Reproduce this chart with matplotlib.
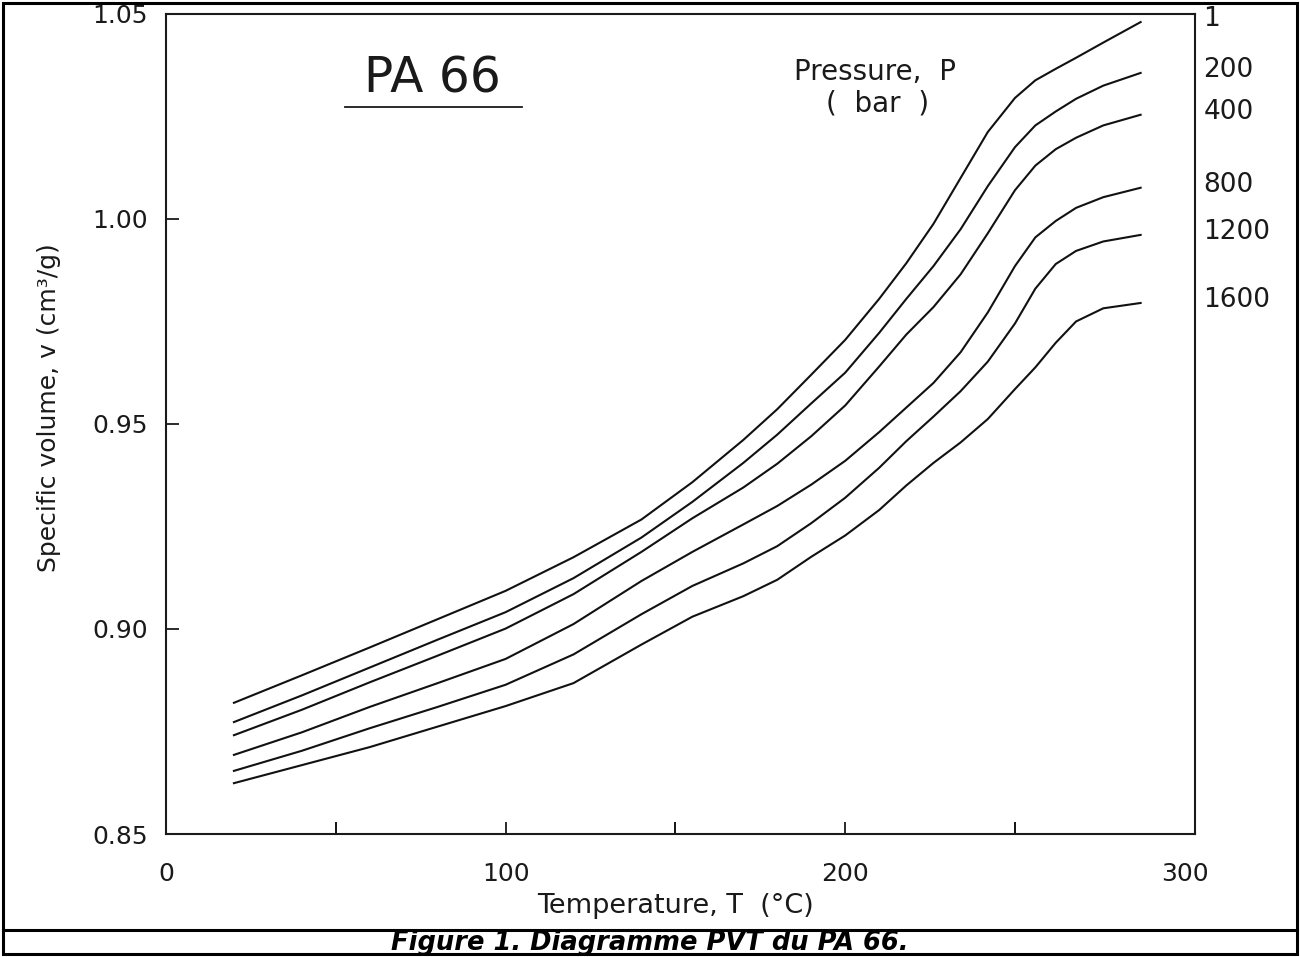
"""
Diagramme PVT du PA 66 - volume spécifique en fonction de la température
pour plusieurs pressions (valeurs relevées sur la figure d'origine)
"""

import matplotlib
matplotlib.use('Agg')
import matplotlib.pyplot as plt
import matplotlib.transforms as mtransforms
from matplotlib.lines import Line2D
from matplotlib.patches import Rectangle

plt.rcParams['font.family'] = ['DejaVu Sans']

# ============================================================
# Données
# ============================================================
temperature = [20, 40, 60, 80, 100, 120, 140, 155, 170, 180, 190, 200,
               210, 218, 226, 234, 242, 250, 256, 262, 268, 276, 287]

pressures = ["1", "200", "400", "800", "1200", "1600"]

v_1 = [0.8820, 0.8887, 0.8955, 0.9024, 0.9093, 0.9175, 0.9267, 0.9358,
       0.9461, 0.9536, 0.9620, 0.9705, 0.9805, 0.9892, 0.9988, 1.0100,
       1.0212, 1.0295, 1.0338, 1.0366, 1.0393, 1.0430, 1.0480]
v_200 = [0.8773, 0.8838, 0.8906, 0.8974, 0.9041, 0.9124, 0.9223, 0.9310,
         0.9405, 0.9474, 0.9550, 0.9625, 0.9722, 0.9805, 0.9885, 0.9975,
         1.0080, 1.0175, 1.0228, 1.0262, 1.0293, 1.0325, 1.0356]
v_400 = [0.8741, 0.8803, 0.8870, 0.8935, 0.9001, 0.9085, 0.9188, 0.9270,
         0.9345, 0.9403, 0.9470, 0.9545, 0.9640, 0.9718, 0.9785, 0.9865,
         0.9965, 1.0070, 1.0130, 1.0170, 1.0198, 1.0228, 1.0254]
v_800 = [0.8693, 0.8748, 0.8810, 0.8868, 0.8927, 0.9012, 0.9117, 0.9188,
         0.9255, 0.9300, 0.9352, 0.9410, 0.9480, 0.9540, 0.9600, 0.9675,
         0.9772, 0.9885, 0.9955, 0.9995, 1.0027, 1.0053, 1.0076]
v_1200 = [0.8654, 0.8703, 0.8758, 0.8810, 0.8864, 0.8938, 0.9036, 0.9105,
          0.9160, 0.9202, 0.9258, 0.9320, 0.9393, 0.9458, 0.9518, 0.9580,
          0.9652, 0.9745, 0.9830, 0.9890, 0.9922, 0.9945, 0.9961]
v_1600 = [0.8624, 0.8668, 0.8712, 0.8762, 0.8812, 0.8868, 0.8962, 0.9030,
          0.9080, 0.9120, 0.9176, 0.9228, 0.9290, 0.9350, 0.9405, 0.9455,
          0.9512, 0.9585, 0.9638, 0.9698, 0.9750, 0.9782, 0.9795]

volumes = [v_1, v_200, v_400, v_800, v_1200, v_1600]

x_labels = [0, 100, 200, 300]
x_half = [50, 150, 250]
y_ticks = [0.85, 0.90, 0.95, 1.00, 1.05]

# ============================================================
# Figure
# ============================================================
fig = plt.figure(figsize=(13, 9.57), dpi=100)
ax = fig.add_axes([0.1277, 0.1285, 0.7915, 0.857])

for v in volumes:
    ax.plot(temperature, v, color='#111111', linewidth=1.5,
            solid_joinstyle='round')

ax.set_xlim(0, 303)
ax.set_ylim(0.85, 1.05)

ax.set_xticks(x_labels)
ax.set_xticks(x_half, minor=True)
ax.tick_params(axis='x', which='both', direction='in', length=9, width=1.3,
               top=False, pad=20)
# pas de trait visible à 300 dans l'original
ax.xaxis.get_major_ticks()[-1].tick1line.set_visible(False)
ax.set_yticks(y_ticks)
ax.set_yticklabels([f"{t:.2f}" for t in y_ticks])
ax.tick_params(axis='y', direction='in', length=9, width=1.3, pad=13,
               right=False)
ax.tick_params(axis='both', colors='#1a1a1a', labelsize=18)
for sp in ax.spines.values():
    sp.set_linewidth(1.5)
    sp.set_color('#1a1a1a')

ax.set_xlabel("Temperature, T  (°C)", fontsize=19.5, color='#1a1a1a')
ax.xaxis.set_label_coords(0.4947, -0.072)
fig.text(49 / 1300, 1 - 408 / 957, "Specific volume, v (cm³/g)", rotation=90,
         ha='center', va='center', fontsize=18, color='#1a1a1a')

# étiquettes de pression à droite
trans = mtransforms.blended_transform_factory(ax.transAxes, ax.transData)
for p, v in zip(pressures, volumes):
    ax.annotate(p, xy=(1.008, v[-1]), xycoords=trans, xytext=(0, 2),
                textcoords='offset points', ha='left', va='center',
                fontsize=19, color='#1a1a1a', annotation_clip=False)

# titre et légende
ax.text(0.2585, 0.921, "PA 66", transform=ax.transAxes, ha='center',
        va='center', fontsize=35, color='#1a1a1a')
ax.add_line(Line2D([0.174, 0.346], [0.8865, 0.8865], transform=ax.transAxes,
                   color='#1a1a1a', linewidth=1.3))
ax.text(0.689, 0.929, "Pressure,  P", transform=ax.transAxes, ha='center',
        va='center', fontsize=20, color='#1a1a1a')
ax.text(0.692, 0.891, "(  bar  )", transform=ax.transAxes, ha='center',
        va='center', fontsize=20, color='#1a1a1a')

# cadre et légende de la figure
fig.patches.append(Rectangle((0.0025, 0.003), 0.995, 0.9935,
                             transform=fig.transFigure, fill=False,
                             edgecolor='black', linewidth=2.2))
fig.lines.append(Line2D([0.0025, 0.9975], [1 - 930 / 957, 1 - 930 / 957],
                        transform=fig.transFigure, color='black', linewidth=2.2))
fig.text(0.5, 1 - 943 / 957, "Figure 1. Diagramme PVT du PA 66.",
         ha='center', va='center', fontsize=18.5, fontweight='bold',
         style='italic', color='black')

fig.savefig("out.png", dpi=100, facecolor='white')
print("[OK] out.png")
